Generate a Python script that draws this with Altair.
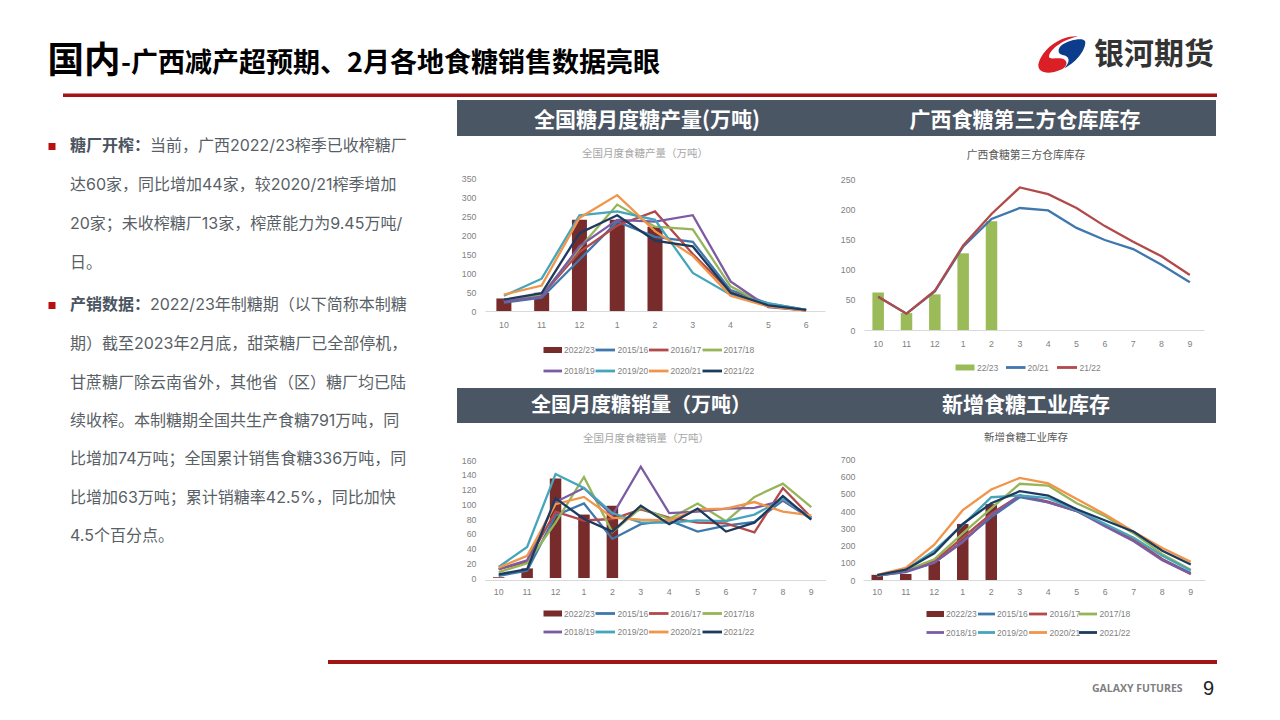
import altair as alt
import pandas as pd

# ---------- data ----------
months_a = ["10", "11", "12", "1", "2", "3", "4", "5", "6"]
months_b = ["10", "11", "12", "1", "2", "3", "4", "5", "6", "7", "8", "9"]
seasons = ["2015/16", "2016/17", "2017/18", "2018/19", "2019/20", "2020/21", "2021/22"]

prod_bar = [33, 48, 240, 240, 222]
prod_1516 = [22, 35, 135, 235, 195, 182, 55, 20, 3]
prod_1617 = [25, 40, 155, 225, 262, 150, 50, 12, 2]
prod_1718 = [28, 42, 165, 280, 222, 215, 65, 12, 2]
prod_1819 = [25, 38, 170, 240, 235, 252, 78, 10, 2]
prod_1920 = [40, 85, 252, 262, 240, 100, 43, 20, 3]
prod_2021 = [43, 67, 245, 305, 210, 145, 40, 12, 1]
prod_2122 = [30, 47, 205, 252, 185, 170, 48, 15, 3]

gx_bar = [62, 28, 59, 127, 180]
gx_2021 = [55, 27, 64, 138, 184, 202, 198, 169, 149, 134, 108, 79]
gx_2122 = [55, 27, 65, 140, 192, 236, 225, 202, 172, 146, 122, 91]

sale_bar = [1, 13, 135, 86, 98]
sale_1516 = [3, 10, 85, 101, 53, 73, 78, 63, 71, 76, 105, 80]
sale_1617 = [12, 22, 90, 78, 80, 93, 82, 75, 74, 62, 122, 82]
sale_1718 = [8, 20, 75, 137, 62, 95, 80, 101, 77, 110, 128, 96]
sale_1819 = [12, 24, 103, 122, 85, 151, 88, 90, 94, 95, 105, 82]
sale_1920 = [15, 42, 141, 122, 88, 75, 75, 78, 77, 86, 107, 82]
sale_2021 = [14, 30, 100, 110, 82, 79, 78, 93, 94, 103, 90, 85]
sale_2122 = [5, 12, 108, 80, 63, 98, 73, 94, 63, 75, 111, 79]

stock_bar = [30, 35, 110, 325, 440]
stock_1516 = [25, 45, 100, 225, 365, 480, 450, 400, 320, 230, 120, 40]
stock_1617 = [25, 50, 110, 245, 385, 490, 455, 400, 320, 235, 120, 35]
stock_1718 = [25, 55, 120, 270, 415, 558, 548, 445, 370, 270, 150, 60]
stock_1819 = [25, 50, 100, 220, 375, 490, 450, 400, 310, 225, 115, 35]
stock_1920 = [25, 60, 170, 320, 480, 490, 475, 405, 325, 245, 140, 55]
stock_2021 = [30, 70, 205, 405, 525, 592, 560, 470, 380, 280, 185, 105]
stock_2122 = [28, 60, 155, 325, 445, 515, 490, 410, 345, 280, 170, 90]

prod_lines = [prod_1516, prod_1617, prod_1718, prod_1819, prod_1920, prod_2021, prod_2122]
sale_lines = [sale_1516, sale_1617, sale_1718, sale_1819, sale_1920, sale_2021, sale_2122]
stock_lines = [stock_1516, stock_1617, stock_1718, stock_1819, stock_1920, stock_2021, stock_2122]

season_colors = ["#3F78AC", "#B2494A", "#95B558", "#7B5CA2", "#45A5BC", "#F0954A", "#1D3A5F"]
bar_color = "#772B2B"

page_title_a = "国内"
page_title_b = "-广西减产超预期、2月各地食糖销售数据亮眼"
logo_text = "银河期货"
footer_text = "GALAXY FUTURES"
page_number = "9"
banner_titles = ["全国糖月度糖产量(万吨)", "广西食糖第三方仓库库存", "全国月度糖销量（万吨）", "新增食糖工业库存"]
chart_titles = ["全国月度食糖产量（万吨）", "广西食糖第三方仓库库存", "全国月度食糖销量（万吨）", "新增食糖工业库存"]

bold_heads = ["糖厂开榨：", "产销数据："]
body_lines = [
    "当前，广西2022/23榨季已收榨糖厂",
    "达60家，同比增加44家，较2020/21榨季增加",
    "20家；未收榨糖厂13家，榨蔗能力为9.45万吨/",
    "日。",
    "2022/23年制糖期（以下简称本制糖",
    "期）截至2023年2月底，甜菜糖厂已全部停机，",
    "甘蔗糖厂除云南省外，其他省（区）糖厂均已陆",
    "续收榨。本制糖期全国共生产食糖791万吨，同",
    "比增加74万吨；全国累计销售食糖336万吨，同",
    "比增加63万吨；累计销糖率42.5%，同比加快",
    "4.5个百分点。",
]

CJK = "Noto Sans CJK SC"
BODY = "Inter, 'Noto Sans CJK SC'"
LAT = "Liberation Sans"
GREY = "#7F7F7F"
RED = "#A31515"
SLATE = "#4B5664"


# ---------- page furniture: coordinates are page pixels, shifted by the 8px margin ----------
def P(x):
    return x - 8


def px(field):
    return alt.X(field, type="quantitative", scale=None, axis=None)


def py(field):
    return alt.Y(field, type="quantitative", scale=None, axis=None)


def text_layer(rows, size, color, font=CJK, weight="normal", align="left", **kw):
    df = pd.DataFrame([{"x": P(x), "y": P(y), "t": t} for x, y, t in rows])
    return alt.Chart(df).mark_text(
        fontSize=size, color=color, font=font, fontWeight=weight, align=align, baseline="middle", **kw
    ).encode(x=px("x"), y=py("y"), text="t:N")


def rect_layer(rows, color):
    df = pd.DataFrame([{"x": P(a), "x2": P(b), "y": P(c), "y2": P(d)} for a, b, c, d in rows])
    return alt.Chart(df).mark_rect(color=color).encode(
        x=px("x"), x2=alt.X2("x2"), y=py("y"), y2=alt.Y2("y2")
    )


def logo_shape(path, color, size=2700):
    df = pd.DataFrame({"x": [P(1062.5)], "y": [P(55)]})
    return alt.Chart(df).mark_point(
        shape=path, filled=True, color=color, size=size, opacity=1, strokeWidth=0
    ).encode(x=px("x"), y=py("y"))


RED_SWIRL = ("M0.6,-0.72 C-0.07,-0.76 -0.8,-0.23 -0.93,0.37 C-0.96,0.7 -0.53,0.77 -0.07,0.57 "
             "C0.13,0.48 0.24,0.3 0.07,0.17 C-0.13,0.08 -0.4,0.17 -0.5,0.11 "
             "C-0.6,-0.05 -0.2,-0.53 0.6,-0.72 Z")
BLUE_SWIRL = ("M0,-0.4 C0.27,-0.59 0.8,-0.69 0.87,-0.53 C0.93,-0.29 0.6,0.24 0.07,0.51 "
              "C0.33,0.24 0.27,0.04 0,0 C-0.2,-0.03 -0.2,-0.27 0,-0.4 Z")

left_x = 70
head_gap = 150
line_ys = [146, 185, 224, 263, 305, 344, 383, 421, 459, 498, 536]
body_rows = [
    (head_gap if i in (0, 4) else left_x, y, t) for i, (y, t) in enumerate(zip(line_ys, body_lines))
]
banner_spec = [(647, 121, 21), (1025, 121, 21), (641, 406, 20), (1026, 406, 21)]
title_spec = [(645, 154, 10.5, "#A6A6A6"), (1026, 156, 10.8, "#595959"), (646, 439, 10.5, "#A6A6A6"), (1026, 438, 10.5, "#595959")]

layers = [
    rect_layer([(457, 1216, 100, 136), (457, 1216, 388, 423)], SLATE),
    rect_layer([(63, 1217, 93.5, 97), (328, 1217, 660, 664)], RED),
    rect_layer([(48.5, 55.5, 143, 150), (48.5, 55.5, 302, 309)], "#B80F0F"),
    text_layer([(47.5, 62, page_title_a)], 36.5, "#000000", weight="bold"),
    text_layer([(121, 64, page_title_b)], 27, "#000000", weight="bold"),
    text_layer([(1094, 55, logo_text)], 30, "#333333", weight="bold"),
    logo_shape(RED_SWIRL, "#DB1F26"),
    logo_shape(BLUE_SWIRL, "#0C3C8C"),
    text_layer([(left_x, line_ys[0], bold_heads[0]), (left_x, line_ys[4], bold_heads[1])], 16, "#4A5460", weight="bold"),
    text_layer(body_rows, 16, "#595F66", font=BODY),
    text_layer([(1092, 689, footer_text)], 10.5, "#7F7F7F", font="Open Sans", weight="bold"),
    text_layer([(1208.5, 689, page_number)], 20, "#222222", font=LAT, align="center"),
]
for (cx, cy, s), label in zip(banner_spec, banner_titles):
    layers.append(text_layer([(cx, cy, label)], s, "#FFFFFF", weight="bold", align="center"))
for (cx, cy, s, c), label in zip(title_spec, chart_titles):
    layers.append(text_layer([(cx, cy, label)], s, c, align="center"))


def legend_layers(items, xs, y, thick_first=True):
    """items: (label, colour); xs: (swatch start, swatch end, label start)."""
    out = []
    for i, ((label, colour), (a, b, c)) in enumerate(zip(items, xs)):
        h = 3 if (i == 0 and thick_first) else 1.4
        out.append(rect_layer([(a, b, y - h, y + h)], colour))
        out.append(text_layer([(c, y, label)], 8.5, GREY, font=LAT))
    return out


all_items = [("2022/23", bar_color)] + list(zip(seasons, season_colors))
cols_a = [(543.5, 562, 564), (595.5, 615, 617.5), (649, 668.5, 670.5), (702.5, 722, 723.5)]
cols_b = [(926.5, 944, 946), (978, 995, 997), (1029, 1047, 1049.5), (1079, 1097, 1099.5)]


def legend_two_rows(cols, y1, y2):
    out = legend_layers(all_items[:4], cols, y1)
    out += legend_layers(all_items[4:], cols, y2, thick_first=False)
    return out


layers += legend_two_rows(cols_a, 350, 371)
layers += legend_two_rows(cols_a, 613.5, 632)
layers += legend_two_rows(cols_b, 614, 632.5)
layers += legend_layers(
    [("22/23", "#9BBB59"), ("20/21", "#3F78AC"), ("21/22", "#B2494A")],
    [(955.5, 974.5, 977), (1006, 1025.5, 1027.5), (1057, 1077, 1079.5)],
    367.5,
)

COL0_W, COL_W, COL_GAP = 439, 342, 37
ROW0_H, ROW_GAP = 41, 129

canvas = alt.layer(*layers).properties(width=COL0_W, height=ROW0_H)


def blank(w, h):
    return alt.Chart(pd.DataFrame({"a": [0]})).mark_point(opacity=0).encode(
        x=alt.value(10), y=alt.value(10)
    ).properties(width=w, height=h)


# ---------- the four panels ----------
def panel(months, bars, bar_col, names, lines, colours, ymax, step, xr, yr, h, bar_size, x_pad):
    bar_df = pd.DataFrame({"month": months[: len(bars)], "value": bars})
    rows = []
    for name, vals in zip(names, lines):
        for m, v in zip(months, vals):
            rows.append({"month": m, "value": v, "series": name})
    line_df = pd.DataFrame(rows)
    x_enc = alt.X(
        "month:N",
        sort=months,
        scale=alt.Scale(domain=months, range=xr),
        axis=alt.Axis(
            title=None, labelAngle=0, ticks=False, domainColor="#D9D9D9", domainWidth=1,
            labelFont=LAT, labelFontSize=8.8, labelColor=GREY, labelPadding=x_pad, grid=False,
        ),
    )
    y_enc = alt.Y(
        "value:Q",
        scale=alt.Scale(domain=[0, ymax], range=yr, nice=False),
        axis=alt.Axis(
            title=None, values=list(range(0, ymax + 1, step)), domain=False, ticks=False, grid=False,
            labelFont=LAT, labelFontSize=8.8, labelColor=GREY, labelPadding=8,
        ),
    )
    bars_ch = alt.Chart(bar_df).mark_bar(size=bar_size, color=bar_col).encode(x=x_enc, y=y_enc)
    lines_ch = alt.Chart(line_df).mark_line(strokeWidth=2.3, strokeJoin="miter").encode(
        x=x_enc,
        y=y_enc,
        color=alt.Color("series:N", scale=alt.Scale(domain=names, range=colours), legend=None),
    )
    return alt.layer(bars_ch, lines_ch).properties(width=COL_W, height=h)


chart1 = panel(months_a, prod_bar, bar_color, seasons, prod_lines, season_colors, 350, 50, [1, 341], [133, 0], 133, 15, 9)
chart2 = panel(months_b, gx_bar, "#9BBB59", ["20/21", "21/22"], [gx_2021, gx_2122], ["#3F78AC", "#B2494A"], 250, 50, [1, 341], [152, 1], 152, 11.5, 9)
chart3 = panel(months_b, sale_bar, bar_color, seasons, sale_lines, season_colors, 160, 20, [0.5, 341.5], [119, 1], 121, 11.5, 7)
chart4 = panel(months_b, stock_bar, bar_color, seasons, stock_lines, season_colors, 700, 100, [0, 342], [121, 0.3], 121, 11.5, 7)

chart = alt.concat(
    canvas, blank(COL_W, ROW0_H), blank(COL_W, ROW0_H),
    blank(COL0_W, 152), chart1, chart2,
    blank(COL0_W, 121), chart3, chart4,
    columns=3,
    bounds="flush",
    spacing={"row": ROW_GAP, "column": COL_GAP},
).properties(padding=0, background="#FFFFFF").configure_view(stroke=None)

chart.save("out.html", embed_options={"renderer": "svg", "actions": False})
